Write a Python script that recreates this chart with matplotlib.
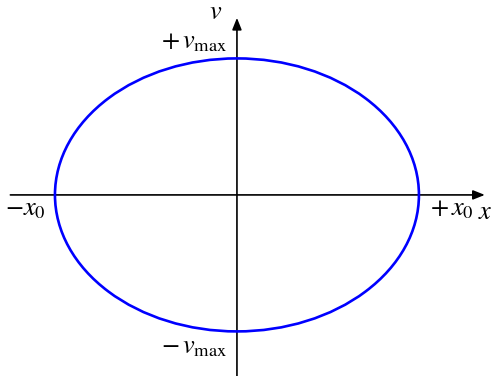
import matplotlib
matplotlib.use("Agg")
matplotlib.rcParams["mathtext.fontset"] = "stix"
matplotlib.rcParams["font.family"] = "STIXGeneral"

import matplotlib.pyplot as plt
from matplotlib.patches import Ellipse

# phase-space ellipse of a harmonic oscillator
x0 = 1.0          # amplitude
v_max = 0.75      # peak speed (in the same plot units)

# axis extents
x_axis = (-1.245, 1.362)
v_axis = (-1.0, 0.973)

fig = plt.figure(figsize=(4.93, 3.76), dpi=100)
ax = fig.add_axes([0, 0, 1, 1])
ax.set_xlim(-1.302, 1.407)
ax.set_ylim(-0.995, 1.071)
ax.set_aspect("equal")
ax.axis("off")

# axes with arrow heads
arrow = dict(arrowstyle="-|>,head_length=0.7,head_width=0.28", color="black",
             linewidth=1.2, shrinkA=0, shrinkB=0)
ax.annotate("", xy=(x_axis[1], 0), xytext=(x_axis[0], 0), arrowprops=arrow)
ax.annotate("", xy=(0, v_axis[1]), xytext=(0, v_axis[0]), arrowprops=arrow)

ax.add_patch(Ellipse((0, 0), 2 * x0, 2 * v_max, fill=False,
                     edgecolor="#0000FF", linewidth=1.9, zorder=3))

fs = 19
ax.text(-0.08, 1.0, r"$v$", ha="right", va="center", fontsize=fs)
ax.text(-0.05, 0.84, r"$+\,v_{\max}$", ha="right", va="center", fontsize=fs)
ax.text(-0.05, -0.84, r"$-\,v_{\max}$", ha="right", va="center", fontsize=fs)
ax.text(-1.275, -0.08, r"$-x_0$", ha="left", va="center", fontsize=fs)
ax.text(1.06, -0.08, r"$+\,x_0$", ha="left", va="center", fontsize=fs)
ax.text(1.404, -0.1, r"$x$", ha="right", va="center", fontsize=fs)

fig.savefig("out.png", dpi=100)
